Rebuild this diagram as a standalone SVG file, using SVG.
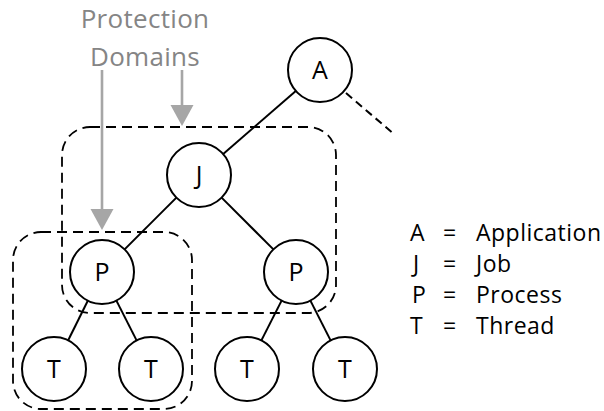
<svg xmlns="http://www.w3.org/2000/svg" width="604" height="411" viewBox="0 0 604 411">
  <style>
    .domain { fill: none; stroke: #000; stroke-width: 1.8; stroke-dasharray: 10 6; }
    .edge { stroke: #000; stroke-width: 2; fill: none; }
    .edge-dash { stroke: #000; stroke-width: 2; stroke-dasharray: 8 5; fill: none; }
    .node circle { fill: #fff; stroke: #000; stroke-width: 2; }
    .node text { font-family: "Open Sans", "Liberation Sans", sans-serif; font-size: 25px; text-anchor: middle; fill: #000; }
    .pointer { stroke: #a6a6a6; stroke-width: 2.6; fill: none; }
    .caption { font-family: "Open Sans", "Liberation Sans", sans-serif; font-size: 26px; fill: #858585; text-anchor: middle; }
    .legend text { font-family: "Open Sans", "Liberation Sans", sans-serif; font-size: 23px; fill: #000; letter-spacing: 0.5px; }
  </style>
  <defs>
    <marker id="grayHead" markerUnits="userSpaceOnUse" markerWidth="22" markerHeight="24" refX="11" refY="11.5" orient="auto">
      <path d="M0,0 L21,11.5 L0,23 z" fill="#a6a6a6"/>
    </marker>
  </defs>

  <!-- protection domain outlines -->
  <g id="domains">
    <rect id="domain-job" class="domain" x="62" y="127" width="274" height="186" rx="28" ry="28"/>
    <rect id="domain-process" class="domain" x="13" y="232" width="179" height="177" rx="28" ry="28"/>
  </g>

  <!-- tree connectors -->
  <g id="connectors">
    <line class="edge" x1="295.8" y1="91" x2="223.2" y2="154"/>
    <line class="edge-dash" x1="346" y1="93" x2="395" y2="135"/>
    <line class="edge" x1="176.4" y1="197.6" x2="124.6" y2="249.4"/>
    <line class="edge" x1="221.6" y1="197.6" x2="273.4" y2="249.4"/>
    <line class="edge" x1="87.8" y1="300.7" x2="68.2" y2="340.3"/>
    <line class="edge" x1="116.4" y1="300.6" x2="136.6" y2="340.4"/>
    <line class="edge" x1="281.6" y1="300.6" x2="261.4" y2="340.4"/>
    <line class="edge" x1="310.4" y1="300.6" x2="330.6" y2="340.4"/>
  </g>

  <!-- nodes -->
  <g id="node-A" class="node"><circle cx="320" cy="70" r="32"/><text x="320" y="79">A</text></g>
  <g id="node-J" class="node"><circle cx="199" cy="175" r="32"/><text x="199" y="184">J</text></g>
  <g id="node-P1" class="node"><circle cx="102" cy="272" r="32"/><text x="102" y="281">P</text></g>
  <g id="node-P2" class="node"><circle cx="296" cy="272" r="32"/><text x="296" y="281">P</text></g>
  <g id="node-T1" class="node"><circle cx="54" cy="369" r="32"/><text x="54" y="378">T</text></g>
  <g id="node-T2" class="node"><circle cx="151" cy="369" r="32"/><text x="151" y="378">T</text></g>
  <g id="node-T3" class="node"><circle cx="247" cy="369" r="32"/><text x="247" y="378">T</text></g>
  <g id="node-T4" class="node"><circle cx="345" cy="369" r="32"/><text x="345" y="378">T</text></g>

  <!-- caption with pointers to the domains -->
  <g id="caption">
    <text class="caption" x="145" y="28" letter-spacing="0.3">Protection</text>
    <text class="caption" x="145" y="66" letter-spacing="0.3">Domains</text>
    <line class="pointer" x1="182" y1="70" x2="182" y2="116" marker-end="url(#grayHead)"/>
    <line class="pointer" x1="102" y1="70" x2="102" y2="220" marker-end="url(#grayHead)"/>
  </g>

  <!-- legend -->
  <g id="legend" class="legend">
    <text x="410" y="241">A</text><text x="443" y="241">=</text><text x="476" y="241">Application</text>
    <text x="413" y="272">J</text><text x="443" y="272">=</text><text x="476" y="272">Job</text>
    <text x="412" y="303">P</text><text x="443" y="303">=</text><text x="476" y="303">Process</text>
    <text x="410" y="334">T</text><text x="443" y="334">=</text><text x="476" y="334">Thread</text>
  </g>
</svg>
